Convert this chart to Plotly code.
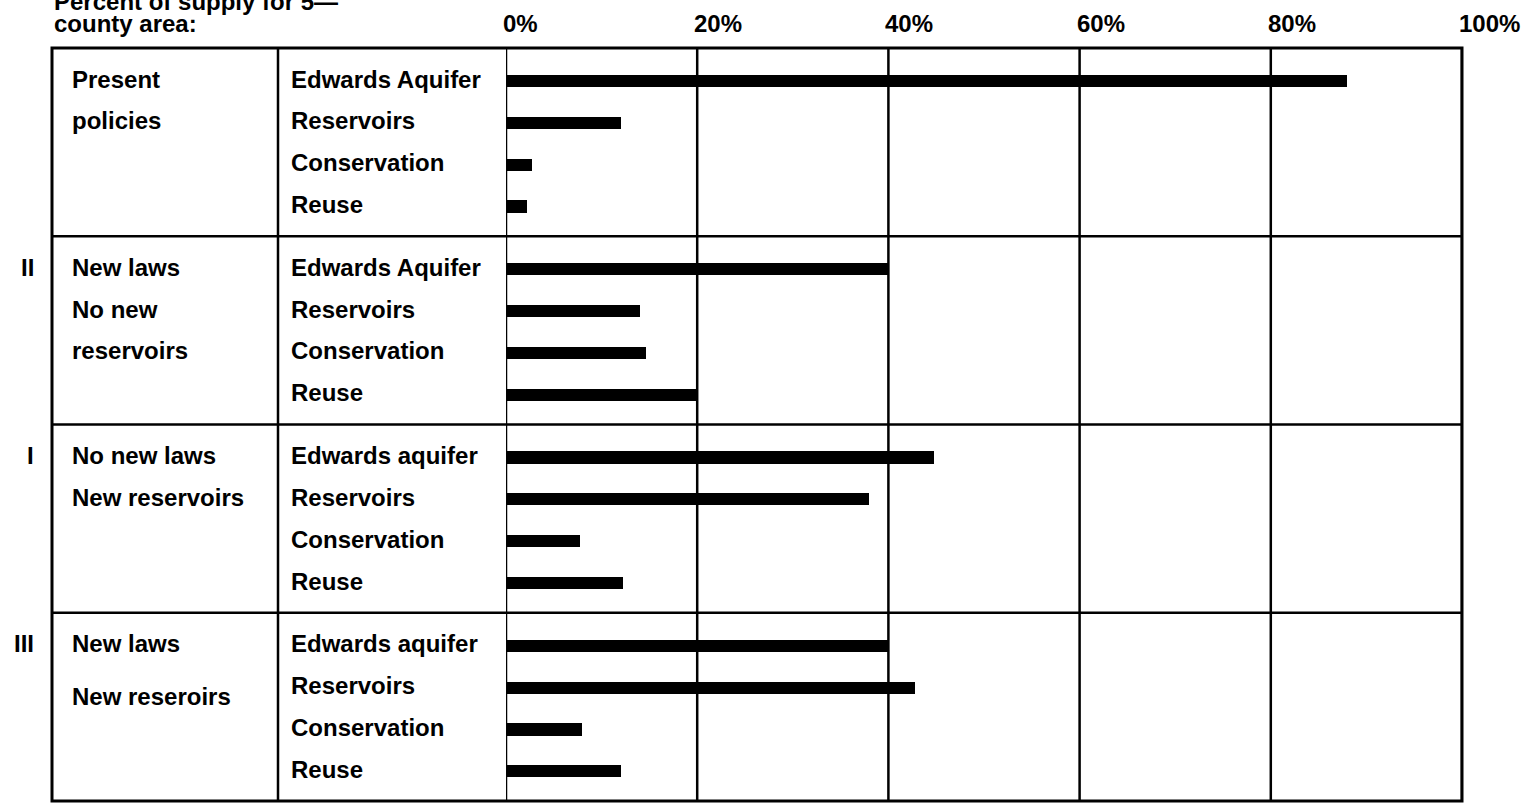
import plotly.graph_objects as go

# ---- data ----
scenarios = ["Present policies", "II New laws, no new reservoirs",
             "I No new laws, new reservoirs", "III New laws, new reservoirs"]
roman = ["", "II", "I", "III"]
scenario_lines = [
    ["Present", "policies"],
    ["New laws", "No new", "reservoirs"],
    ["No new laws", "New reservoirs"],
    ["New laws", "New reseroirs"],
]
sources = [
    ["Edwards Aquifer", "Reservoirs", "Conservation", "Reuse"],
    ["Edwards Aquifer", "Reservoirs", "Conservation", "Reuse"],
    ["Edwards aquifer", "Reservoirs", "Conservation", "Reuse"],
    ["Edwards aquifer", "Reservoirs", "Conservation", "Reuse"],
]
present_vals = [88, 12, 2.7, 2.2]
scen2_vals = [40, 14, 14.6, 20]
scen1_vals = [44.8, 38, 7.7, 12.2]
scen3_vals = [40, 42.8, 8, 12]
tick_vals = [0, 20, 40, 60, 80, 100]
tick_text = ["0%", "20%", "40%", "60%", "80%", "100%"]

all_vals = [present_vals, scen2_vals, scen1_vals, scen3_vals]

# ---- layout helpers (pixels on the 1530x804 page) ----
W, H = 1530, 804
LEFT, RIGHT, TOP, BOTTOM = 52, 1462, 48, 801
AXIS0 = 506          # x pixel of 0%
COL2 = 278           # divider between scenario and source columns
SEC = 4.5            # y units per scenario block
ROW0 = 0.79          # first row offset inside a block

def px(x):
    return (x - LEFT) / (RIGHT - LEFT)

FONT = dict(family="Liberation Sans, Arial, sans-serif", size=24, color="black", weight="bold")

ys, xs = [], []
for s, vals in enumerate(all_vals):
    for i, v in enumerate(vals):
        ys.append(s * SEC + ROW0 + i)
        xs.append(v)

fig = go.Figure()
fig.add_trace(go.Bar(
    x=xs, y=ys, orientation="h", width=0.29,
    marker=dict(color="black", line=dict(width=0)),
    hoverinfo="x", showlegend=False,
))

shapes = [
    dict(type="rect", xref="paper", yref="paper", x0=0, x1=1, y0=0, y1=1,
         line=dict(color="black", width=3), layer="above"),
    dict(type="line", xref="paper", yref="paper", x0=px(COL2), x1=px(COL2), y0=0, y1=1,
         line=dict(color="black", width=2.5), layer="above"),
]
for s in range(1, len(scenarios)):
    shapes.append(dict(type="line", xref="paper", yref="y", x0=0, x1=1,
                       y0=s * SEC, y1=s * SEC, line=dict(color="black", width=2.5),
                       layer="above"))
for t in tick_vals:
    shapes.append(dict(type="line", xref="x", yref="paper", x0=t, x1=t, y0=0, y1=1,
                       line=dict(color="black", width=2.5), layer="below"))

annotations = []
# header (first line runs off the top of the page, as in the scan)
annotations.append(dict(text="Percent of supply for 5—", xref="paper", yref="paper",
                        x=0, y=1, yshift=47, xanchor="left", yanchor="middle",
                        showarrow=False, font=FONT))
annotations.append(dict(text="county area:", xref="paper", yref="paper",
                        x=0, y=1, yshift=25, xanchor="left", yanchor="middle",
                        showarrow=False, font=FONT))
# top tick labels
for t, lab in zip(tick_vals, tick_text):
    annotations.append(dict(text=lab, xref="x", yref="paper", x=t, y=1, yshift=25,
                            xshift=-5, xanchor="left", yanchor="middle",
                            showarrow=False, font=FONT))
# block labels
line_offsets = [[0, 1], [0, 1, 2], [0, 1], [0, 1.25]]
for s in range(len(scenarios)):
    base = s * SEC + ROW0
    if roman[s]:
        annotations.append(dict(text=roman[s], xref="paper", yref="y", x=px(36), y=base,
                                yshift=2, xanchor="right", yanchor="middle",
                                showarrow=False, font=FONT))
    for line, off in zip(scenario_lines[s], line_offsets[s]):
        annotations.append(dict(text=line, xref="paper", yref="y", x=px(70), y=base + off,
                                yshift=2, xanchor="left", yanchor="middle",
                                showarrow=False, font=FONT))
    for i, src in enumerate(sources[s]):
        annotations.append(dict(text=src, xref="paper", yref="y", x=px(289), y=base + i,
                                yshift=2, xanchor="left", yanchor="middle",
                                showarrow=False, font=FONT))

fig.update_layout(
    width=W, height=H,
    margin=dict(l=LEFT, r=W - RIGHT, t=TOP, b=H - BOTTOM, pad=0),
    paper_bgcolor="white", plot_bgcolor="white",
    xaxis=dict(domain=[px(AXIS0), 1], range=[0, 100], showgrid=False, zeroline=False,
               showticklabels=False, ticks="", fixedrange=True),
    yaxis=dict(range=[len(scenarios) * SEC, 0], showgrid=False, zeroline=False,
               showticklabels=False, ticks="", fixedrange=True),
    shapes=shapes,
    annotations=annotations,
    bargap=0,
)

# drop the default body margin so the figure sits at the page corner
fig.write_html("out.html", config={"displayModeBar": False},
               post_script="document.body.style.margin='0';")
